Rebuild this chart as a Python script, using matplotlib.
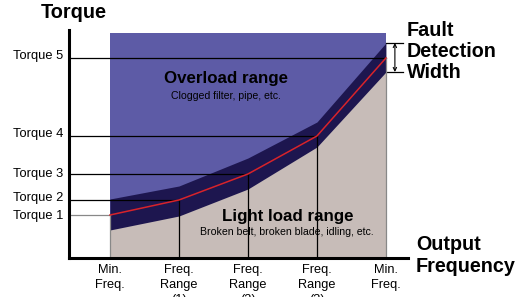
import matplotlib.pyplot as plt

plt.rcParams['font.family'] = ['Liberation Sans', 'DejaVu Sans']

# x positions of the frequency points and their labels
positions = [0, 1, 2, 3, 4]
x_labels = ["Min.\nFreq.", "Freq.\nRange\n(1)", "Freq.\nRange\n(2)", "Freq.\nRange\n(3)", "Min.\nFreq."]

# torque levels (arbitrary units, x-axis = 0)
torque = [43, 58, 84, 122, 200]
torque_labels = ["Torque 1", "Torque 2", "Torque 3", "Torque 4", "Torque 5"]
band_upper = [59, 72, 100, 136, 215]
band_lower = [28, 42, 69, 111, 186]
overload_top = 225

purple = "#5d5ba6"
band_col = "#1d164f"
grey_col = "#c7bcb8"
red_col = "#d8232a"

fig = plt.figure(figsize=(5.2, 2.97), dpi=100)
ax = fig.add_axes([69/520, 39/297, 339/520, 228/297])
ax.set_xlim(-0.594, 4.32)
ax.set_ylim(0, 228)

# regions
ax.fill_between([positions[0], positions[-1]], 0, overload_top, color=purple, lw=0, zorder=1)
ax.fill_between(positions, 0, band_upper, color=band_col, lw=0, zorder=2)
ax.fill_between(positions, 0, band_lower, color=grey_col, lw=0, zorder=3)
ax.plot(positions, torque, color=red_col, lw=1.1, zorder=5)

# guide lines
for i, (x, t) in enumerate(zip(positions, torque)):
    lc = "#888888" if i in (0, 4) else "black"
    ax.plot([-0.594, x], [t, t], color=lc if i == 0 else "black", lw=0.9, zorder=4)
    ax.plot([x, x], [0, t], color=lc, lw=0.9, zorder=4)

# fault detection width marker
ax.plot([4, 4.25], [band_upper[-1], band_upper[-1]], color="black", lw=0.9, clip_on=False)
ax.plot([4, 4.25], [band_lower[-1], band_lower[-1]], color="black", lw=0.9, clip_on=False)
ax.annotate("", xy=(4.13, band_upper[-1]), xytext=(4.13, band_lower[-1]),
            arrowprops=dict(arrowstyle="<->", color="black", lw=0.8,
                            mutation_scale=6, shrinkA=0, shrinkB=0),
            annotation_clip=False)

# axes styling
for s in ["top", "right"]:
    ax.spines[s].set_visible(False)
ax.spines["left"].set_linewidth(2.2)
ax.spines["bottom"].set_linewidth(2.2)
ax.spines["left"].set_zorder(6)
ax.spines["bottom"].set_zorder(6)
ax.set_xticks(positions, x_labels, fontsize=9.2, linespacing=1.35, va="top")
# labels sit a little above their guide lines, except the lowest one
label_shift = [0, 3, 1, 3, 4]
ax.set_yticks([t + d for t, d in zip(torque, label_shift)], torque_labels, fontsize=9.3)
ax.tick_params(length=0)
ax.tick_params(axis="x", pad=4)
ax.tick_params(axis="y", pad=4)

# texts
fig.text(41/520, 1 - 13/297, "Torque", fontsize=14.3, fontweight="bold", va="center", ha="left")
for j, line in enumerate(["Fault", "Detection", "Width"]):
    fig.text(407/520, 1 - (31 + 20.5*j)/297, line, fontsize=14.2, fontweight="bold", va="center", ha="left")
for j, line in enumerate(["Output", "Frequency"]):
    fig.text(416/520, 1 - (245 + 21*j)/297, line, fontsize=14.2, fontweight="bold", va="center", ha="left")

ax.text(1.68, 180, "Overload range", fontsize=12.2, fontweight="bold", ha="center", va="center", zorder=7)
ax.text(1.68, 162, "Clogged filter, pipe, etc.", fontsize=7.6, ha="center", va="center", zorder=7)
ax.text(2.57, 42, "Light load range", fontsize=12.2, fontweight="bold", ha="center", va="center", zorder=7)
ax.text(2.57, 26, "Broken belt, broken blade, idling, etc.", fontsize=7.6, ha="center", va="center", zorder=7)

fig.savefig("out.png", dpi=100)
